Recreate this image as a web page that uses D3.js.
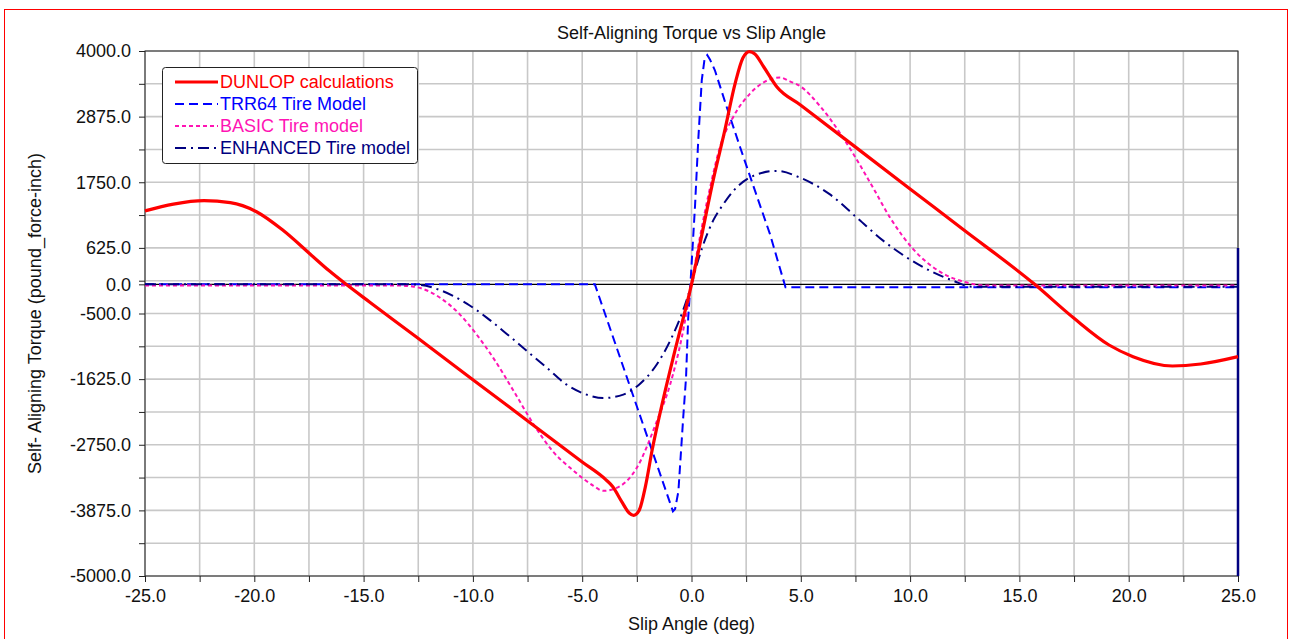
<meta charset="utf-8" />
<style>
	body { margin: 0; background: #fff; }
	svg { display: block; font-family: 'Liberation Sans', Arial, sans-serif; }
</style>
<svg width="1290" height="639"></svg>
<script src="https://cdn.jsdelivr.net/npm/d3@7"></script>
<script>
	// slip angle (deg), torque (pound_force-inch)
	var dunlop = [
		[-25, 1260], [-23.7, 1376], [-22.3, 1435], [-21.1, 1400], [-19.9, 1245],
		[-18.7, 930], [-17.45, 520], [-16.6, 240], [-15.8, 0], [-14.7, -310],
		[-12.6, -900], [-10, -1635], [-7.25, -2410], [-5, -3045], [-3.9, -3355],
		[-3.6, -3470], [-3.2, -3720], [-2.85, -3920], [-2.65, -3960], [-2.4, -3880],
		[-2.1, -3450], [-1.8, -2840], [-1.3, -1980], [-0.75, -1125], [0, 0],
		[0.5, 900], [1.0, 1800], [1.5, 2600], [2.0, 3450], [2.35, 3880],
		[2.65, 3990], [2.9, 3950], [3.3, 3730], [3.9, 3387], [5, 3071],
		[7.4, 2382], [10, 1636], [12.4, 948], [15.7, 0], [17.5, -583],
		[19.1, -1040], [20.2, -1240], [22, -1400], [23.3, -1366], [25, -1240]
	];

	var trr64 = [
		[-25, 0], [-4.42, 0], [-0.85, -3890], [-0.75, -3850], [-0.6, -3550],
		[-0.38, -2290], [-0.25, -1600], [-0.15, -570], [-0.05, 0], [0.16, 1335],
		[0.31, 2480], [0.47, 3500], [0.6, 3870], [0.72, 3930], [0.85, 3850],
		[1.07, 3670], [1.61, 3040], [2.22, 2355], [2.9, 1610], [3.59, 860],
		[4.3, -50], [25, -50], [25, -5000]
	];

	var basic = [
		[-25, -20], [-13.5, -20], [-12.7, -40], [-11.5, -230], [-10.6, -515],
		[-9.83, -860], [-9.07, -1260], [-8.15, -1820], [-7.24, -2390], [-6.33, -2870],
		[-5.41, -3190], [-4.5, -3450], [-4.04, -3540], [-3.27, -3460], [-2.51, -3150],
		[-1.59, -2350], [-0.98, -1720], [-0.45, -920], [0, 0], [0.24, 515],
		[0.85, 1660], [1.3, 2350], [1.91, 2870], [2.68, 3270], [3.74, 3530],
		[4.05, 3545], [4.5, 3480], [4.96, 3400], [5.89, 3050], [6.8, 2590],
		[7.41, 2230], [8.33, 1640], [9.09, 1140], [10.15, 600], [11.39, 210],
		[12.6, 30], [13.5, -20], [25, -20]
	];

	var enhanced = [
		[-25, 0], [-13, 0], [-12.4, -10], [-11.5, -100], [-10.28, -330],
		[-9.37, -570], [-8.45, -850], [-7.54, -1140], [-6.62, -1430], [-5.71, -1720],
		[-4.8, -1890], [-4.04, -1950], [-3.12, -1890], [-2.4, -1720], [-1.59, -1375],
		[-0.98, -970], [-0.37, -430], [0, 0], [0.24, 330], [0.5, 640],
		[1.0, 1100], [1.45, 1370], [1.91, 1600], [2.83, 1860], [3.9, 1945],
		[4.96, 1830], [6.3, 1550], [7.56, 1145], [8.78, 745], [9.85, 460],
		[10.92, 230], [11.98, 60], [12.8, -40], [25, -40]
	];
	// the enhanced trace ends with a drop along the right edge
	var enhancedTail = [[25, -40], [25, 625], [25, -5000]];

	var seriesNames = ['DUNLOP calculations', 'TRR64 Tire Model', 'BASIC Tire model', 'ENHANCED Tire model'];
	var xTicks = d3.range(-25, 25.01, 2.5);
	var xLabels = d3.range(-25, 25.01, 5);
	var yGrid = d3.range(-5000, 4000.01, 562.5);
	var yLabels = [4000, 2875, 1750, 625, 0, -500, -1625, -2750, -3875, -5000];

	var svg = d3.select('svg'),
		margin = { left: 145, right: 52, top: 51, bottom: 63 },
		width = +svg.attr('width') - margin.left - margin.right,
		height = +svg.attr('height') - margin.top - margin.bottom;

	// outer red frame
	svg.append('rect')
		.attr('x', 4.5).attr('y', 9.5)
		.attr('width', 1283).attr('height', 660)
		.attr('fill', 'none').attr('stroke', '#ff0000');

	var x = d3.scaleLinear().domain([-25, 25]).range([0, width]);
	var y = d3.scaleLinear().domain([-5000, 4000]).range([height, 0]);

	var g = svg.append('g')
		.attr('transform', 'translate(' + margin.left + ',' + margin.top + ')');

	// grid
	g.append('g').selectAll('line').data(xTicks).join('line')
		.attr('x1', d => x(d)).attr('x2', d => x(d))
		.attr('y1', 0).attr('y2', height)
		.attr('stroke', '#c8c8c8').attr('stroke-width', 1.6);
	g.append('g').selectAll('line').data(yGrid).join('line')
		.attr('x1', 0).attr('x2', width)
		.attr('y1', d => y(d)).attr('y2', d => y(d))
		.attr('stroke', '#c8c8c8').attr('stroke-width', 1.6);

	// zero line
	g.append('line')
		.attr('x1', 0).attr('x2', width)
		.attr('y1', y(0)).attr('y2', y(0))
		.attr('stroke', '#000').attr('stroke-width', 1.2);

	// axes
	var fmt = d => d3.format('.1f')(d).replace('\u2212', '-');
	var xAxis = g.append('g')
		.attr('transform', 'translate(0,' + height + ')')
		.call(d3.axisBottom(x).tickValues(xTicks).tickSize(6).tickPadding(7)
			.tickFormat(d => (xLabels.some(v => Math.abs(v - d) < 1e-9) ? fmt(d) : '')));
	var yAxis = g.append('g')
		.call(d3.axisLeft(y).tickValues(yGrid.concat([0])).tickSize(6).tickPadding(8)
			.tickFormat(d => (yLabels.indexOf(d) >= 0 ? fmt(d) : '')));
	[xAxis, yAxis].forEach(a => {
		a.selectAll('.domain').remove();
		a.selectAll('text').attr('font-size', 18).attr('fill', '#111')
			.attr('font-family', "'Liberation Sans', Arial, sans-serif");
		a.selectAll('line').attr('stroke', '#222');
	});

	g.append('rect')
		.attr('width', width).attr('height', height)
		.attr('fill', 'none').attr('stroke', '#222');

	g.append('clipPath').attr('id', 'clip')
		.append('rect').attr('x', -2).attr('y', -3).attr('width', width + 5).attr('height', height + 3);

	var plot = g.append('g').attr('clip-path', 'url(#clip)');

	var smooth = d3.line().x(d => x(d[0])).y(d => y(d[1])).curve(d3.curveMonotoneX);
	var straight = d3.line().x(d => x(d[0])).y(d => y(d[1]));

	plot.append('path').datum(trr64).attr('d', straight)
		.attr('fill', 'none').attr('stroke', '#0000ff').attr('stroke-width', 2)
		.attr('stroke-dasharray', '9,5');
	plot.append('path').datum(basic).attr('d', smooth)
		.attr('fill', 'none').attr('stroke', '#ff14b4').attr('stroke-width', 2)
		.attr('stroke-dasharray', '4,3');
	plot.append('path').datum(enhanced).attr('d', smooth)
		.attr('fill', 'none').attr('stroke', '#000080').attr('stroke-width', 2)
		.attr('stroke-dasharray', '11,5,2,5');
	plot.append('path').datum(enhancedTail).attr('d', straight)
		.attr('fill', 'none').attr('stroke', '#000080').attr('stroke-width', 2.5);
	plot.append('path').datum(dunlop).attr('d', smooth)
		.attr('fill', 'none').attr('stroke', '#ff0000').attr('stroke-width', 3.2)
		.attr('stroke-linejoin', 'round');

	// titles
	svg.append('text')
		.attr('x', margin.left + width / 2).attr('y', 39)
		.attr('text-anchor', 'middle').attr('font-size', 18).attr('fill', '#111')
		.text('Self-Aligning Torque vs Slip Angle');
	svg.append('text')
		.attr('x', margin.left + width / 2).attr('y', 630)
		.attr('text-anchor', 'middle').attr('font-size', 18).attr('fill', '#111')
		.text('Slip Angle (deg)');
	svg.append('text')
		.attr('transform', 'translate(41,' + (margin.top + height / 2) + ') rotate(-90)')
		.attr('text-anchor', 'middle').attr('font-size', 18).attr('fill', '#111')
		.text('Self- Aligning Torque (pound_force-inch)');

	// legend
	var legendStyles = [
		{ color: '#ff0000', width: 3.2, dash: null },
		{ color: '#0000ff', width: 2, dash: '9,5' },
		{ color: '#ff14b4', width: 2, dash: '4,3' },
		{ color: '#000080', width: 2, dash: '11,5,2,5' }
	];
	var legend = svg.append('g').attr('transform', 'translate(162,67)');
	legend.append('rect')
		.attr('x', 0.5).attr('y', 0.5).attr('width', 255).attr('height', 96)
		.attr('rx', 3).attr('fill', '#fff').attr('stroke', '#222');
	var rows = legend.selectAll('g.row').data(seriesNames).join('g')
		.attr('class', 'row')
		.attr('transform', (d, i) => 'translate(0,' + (15 + i * 22) + ')');
	rows.append('line')
		.attr('x1', 13).attr('x2', 56).attr('y1', 0).attr('y2', 0)
		.attr('stroke', (d, i) => legendStyles[i].color)
		.attr('stroke-width', (d, i) => legendStyles[i].width)
		.attr('stroke-dasharray', (d, i) => legendStyles[i].dash);
	rows.append('text')
		.attr('x', 58).attr('y', 6)
		.attr('font-size', 18)
		.attr('fill', (d, i) => legendStyles[i].color)
		.text(d => d);
</script>
